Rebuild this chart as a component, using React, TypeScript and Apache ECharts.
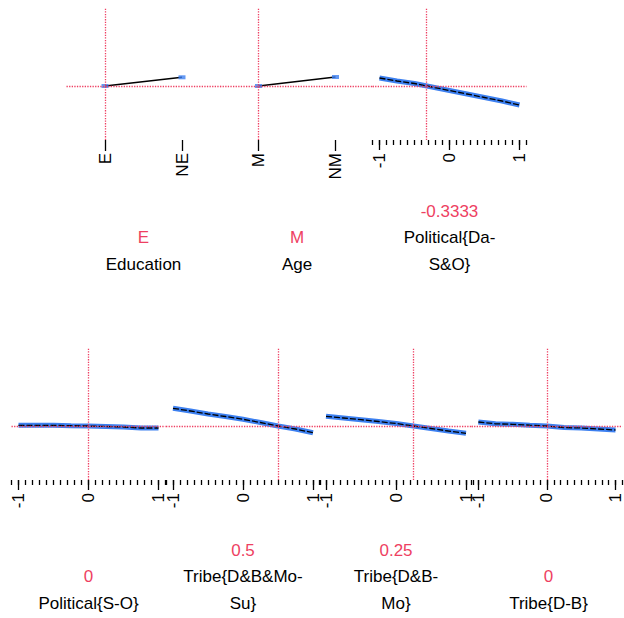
import React, { useEffect, useRef } from "react";
import * as echarts from "echarts";

// x positions (standardised scale) where curves were read
const xPoints = [-1, -0.75, -0.5, -0.25, 0, 0.25, 0.5, 0.75, 1];
// categorical panels
const educationCats = ["E", "NE"];
const educationVals = [0, 0.087];
const ageCats = ["M", "NM"];
const ageVals = [0, 0.09];
// continuous panels (effect values at xPoints)
const politicalDaSO = [0.08, 0.05, 0.025, -0.01, -0.045, -0.08, -0.115, -0.15, -0.19];
const politicalSO = [0.007, 0.007, 0.007, 0.003, 0, -0.005, -0.01, -0.02, -0.02];
const tribeDBMoSu = [0.177, 0.15, 0.12, 0.095, 0.067, 0.035, 0, -0.03, -0.067];
const tribeDBMo = [0.097, 0.08, 0.063, 0.045, 0.025, 0, -0.025, -0.05, -0.073];
const tribeDB = [0.04, 0.022, 0.017, 0.008, 0, -0.015, -0.02, -0.03, -0.04];
// tick labels
const majorTicks = [-1, 0, 1];
const minorTicks: number[] = [];
for (let k = -11; k <= 11; k++) minorTicks.push(k / 10);

const RED = "#EE3F62";
const BLUE = "#3D80F0";
const FAMILY = "'Liberation Sans', Arial, sans-serif";
const FONT = "17px " + FAMILY;

type Panel = {
  kind: "cat" | "num";
  title: string[];
  refLabel: string;
  ref: number | string;
  cats?: string[];
  vals: number[];
  left: number;
  top: number;
};

const panels: Panel[] = [
  { kind: "cat", title: ["Education"], refLabel: "E", ref: "E", cats: educationCats, vals: educationVals, left: 66.5, top: 8 },
  { kind: "cat", title: ["Age"], refLabel: "M", ref: "M", cats: ageCats, vals: ageVals, left: 220, top: 8 },
  { kind: "num", title: ["Political{Da-", "S&O}"], refLabel: "-0.3333", ref: -0.3333, vals: politicalDaSO, left: 372.5, top: 8 },
  { kind: "num", title: ["Political{S-O}"], refLabel: "0", ref: 0, vals: politicalSO, left: 11.5, top: 348 },
  { kind: "num", title: ["Tribe{D&B&Mo-", "Su}"], refLabel: "0.5", ref: 0.5, vals: tribeDBMoSu, left: 166, top: 348 },
  { kind: "num", title: ["Tribe{D&B-", "Mo}"], refLabel: "0.25", ref: 0.25, vals: tribeDBMo, left: 319, top: 348 },
  { kind: "num", title: ["Tribe{D-B}"], refLabel: "0", ref: 0, vals: tribeDB, left: 471.5, top: 348 },
];

const W = 154;
const H = 132;
const YMIN = -0.54;
const YMAX = 0.78;

function buildOption() {
  const grid: any[] = [];
  const xAxis: any[] = [];
  const yAxis: any[] = [];
  const series: any[] = [];
  const graphic: any[] = [];

  panels.forEach((p, gi) => {
    grid.push({ left: p.left, top: p.top, width: W, height: H });
    yAxis.push({ gridIndex: gi, type: "value", min: YMIN, max: YMAX, show: false });
    const markLine = {
      silent: true,
      symbol: ["none", "none"],
      label: { show: false },
      animation: false,
      lineStyle: { type: "dotted", color: RED, width: 1.3 },
      data: [{ xAxis: p.ref }, { yAxis: 0 }],
    };
    const yAxisIndex = gi;
    if (p.kind === "cat") {
      const xi = xAxis.length;
      xAxis.push({
        gridIndex: gi,
        type: "category",
        data: p.cats,
        boundaryGap: true,
        position: "bottom",
        axisLine: { show: false, onZero: false },
        axisTick: { show: true, alignWithLabel: true, length: 11, lineStyle: { color: "#000", width: 1.3 } },
        axisLabel: { rotate: 90, margin: 13, color: "#000", fontSize: 17, fontFamily: FAMILY },
        splitLine: { show: false },
      });
      series.push({
        type: "line",
        xAxisIndex: xi,
        yAxisIndex,
        data: p.vals,
        showSymbol: false,
        lineStyle: { color: "#000", width: 1.5 },
        markLine,
        z: 3,
      });
      series.push({
        type: "scatter",
        xAxisIndex: xi,
        yAxisIndex,
        data: p.vals,
        symbol: "rect",
        symbolSize: [7, 4],
        itemStyle: { color: BLUE },
        z: 4,
      });
    } else {
      const xi = xAxis.length;
      xAxis.push({
        gridIndex: gi,
        type: "value",
        min: -1.1,
        max: 1.1,
        position: "bottom",
        axisLine: { show: false, onZero: false },
        splitLine: { show: false },
        axisTick: { show: true, customValues: majorTicks, length: 10, lineStyle: { color: "#000", width: 1.3 } },
        axisLabel: {
          customValues: majorTicks,
          rotate: 90,
          margin: 13,
          color: "#000",
          fontSize: 17,
          fontFamily: FAMILY,
          formatter: (v: number) => String(v),
        },
      });
      xAxis.push({
        gridIndex: gi,
        type: "value",
        min: -1.1,
        max: 1.1,
        position: "bottom",
        axisLine: { show: false, onZero: false },
        splitLine: { show: false },
        axisTick: { show: true, customValues: minorTicks, length: 5, lineStyle: { color: "#000", width: 1.3 } },
        axisLabel: { show: false },
      });
      const pts = xPoints.map((x, i) => [x, p.vals[i]]);
      series.push({
        type: "line",
        xAxisIndex: xi,
        yAxisIndex,
        data: pts,
        showSymbol: false,
        lineStyle: { color: BLUE, width: 5, cap: "butt" },
        markLine,
        z: 3,
      });
      series.push({
        type: "line",
        xAxisIndex: xi,
        yAxisIndex,
        data: pts,
        showSymbol: false,
        lineStyle: { color: "#000", width: 1.3, type: [6, 2] },
        z: 4,
      });
    }

    // texts under each panel
    const cx = p.left + W / 2;
    const baseY = p.top === 8 ? 264 : 603;
    const lines = [p.refLabel, ...p.title];
    const n = lines.length;
    lines.forEach((t, li) => {
      const y = baseY - (n - 1 - li) * 26.5;
      graphic.push({
        type: "text",
        x: cx,
        y,
        style: {
          text: t,
          fill: li === 0 ? RED : "#000",
          font: FONT,
          textAlign: "center",
          textVerticalAlign: "middle",
        },
      });
    });
  });

  return {
    animation: false,
    backgroundColor: "#fff",
    grid,
    xAxis,
    yAxis,
    series,
    graphic,
  };
}

export default function App() {
  const ref = useRef<HTMLDivElement>(null);
  useEffect(() => {
    if (!ref.current) return;
    const chart = echarts.init(ref.current, undefined, { renderer: "svg" });
    chart.setOption(buildOption() as any);
    return () => chart.dispose();
  }, []);
  return (
    <div
      ref={ref}
      style={{ position: "fixed", left: 0, top: 0, width: 624, height: 618, background: "#fff" }}
    />
  );
}
